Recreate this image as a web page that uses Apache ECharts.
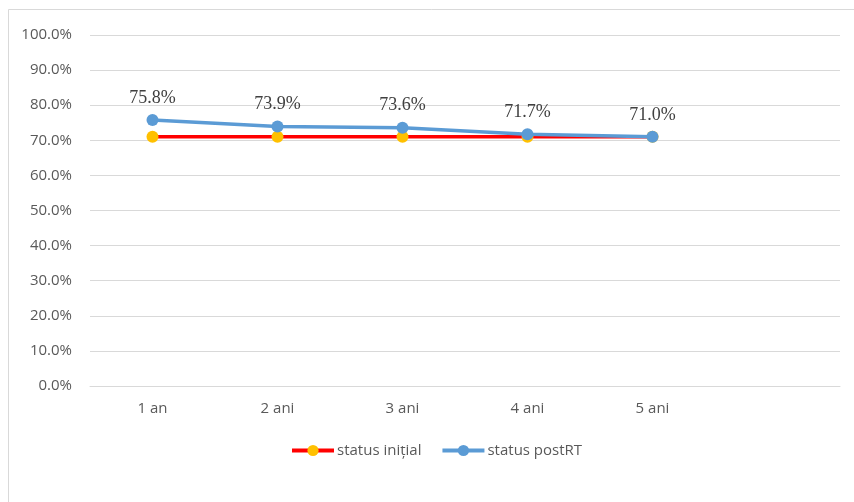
<!DOCTYPE html>
<html>
<head>
<meta charset="utf-8">
<script src="https://cdn.jsdelivr.net/npm/echarts@6/dist/echarts.min.js"></script>
<style>
  html, body { margin: 0; padding: 0; background: #fff; }
  #chart { width: 854px; height: 502px; }
</style>
</head>
<body>
<div id="chart"></div>
<script>
// Categories (the last slot is left empty, as in the layout of the sheet)
const categories = ['1 an', '2 ani', '3 ani', '4 ani', '5 ani', ''];
// Shares, in percent
const statusInitial = [71.0, 71.0, 71.0, 71.0, 71.0];
const statusPostRT = [75.8, 73.9, 73.6, 71.7, 71.0];
const yTicks = { min: 0, max: 100, interval: 10 };

const sansFont = 'Open Sans, Noto Sans, sans-serif';

const chart = echarts.init(document.getElementById('chart'), null, { renderer: 'canvas' });

chart.setOption({
  animation: false,
  backgroundColor: '#ffffff',
  graphic: [{
    type: 'rect',
    shape: { x: 8.5, y: 9.5, width: 860, height: 500 },
    style: { fill: 'none', stroke: '#d9d9d9', lineWidth: 1 },
    silent: true
  }],
  grid: { left: 90, right: 14, top: 35, bottom: 116, containLabel: false },
  legend: {
    top: 438,
    left: 285,
    itemWidth: 42,
    itemHeight: 14,
    itemGap: 19,
    lineStyle: { width: 4 },
    textStyle: { color: '#595959', fontSize: 15, fontFamily: sansFont, padding: [0, 0, 0, -2] },
    data: ['status inițial', 'status postRT']
  },
  xAxis: {
    type: 'category',
    data: categories,
    boundaryGap: true,
    axisLine: { show: true, lineStyle: { color: '#d9d9d9', width: 1 } },
    axisTick: { show: false },
    axisLabel: { color: '#595959', fontSize: 15, fontFamily: sansFont, margin: 15 }
  },
  yAxis: {
    type: 'value',
    min: yTicks.min,
    max: yTicks.max,
    interval: yTicks.interval,
    axisLine: { show: false },
    axisTick: { show: false },
    splitLine: { lineStyle: { color: '#d9d9d9', width: 1 } },
    axisLabel: {
      color: '#595959',
      fontSize: 15,
      fontFamily: sansFont,
      margin: 18,
      formatter: v => v.toFixed(1) + '%'
    }
  },
  series: [
    {
      name: 'status inițial',
      type: 'line',
      data: statusInitial,
      symbol: 'circle',
      symbolSize: 12,
      lineStyle: { color: '#ff0000', width: 3.5 },
      itemStyle: { color: '#ffc000' },
      z: 2
    },
    {
      name: 'status postRT',
      type: 'line',
      data: statusPostRT,
      symbol: 'circle',
      symbolSize: 12,
      lineStyle: { color: '#5b9bd5', width: 3.5 },
      itemStyle: { color: '#5b9bd5' },
      label: {
        show: true,
        position: 'top',
        distance: 7,
        color: '#404040',
        fontSize: 18,
        fontFamily: 'Liberation Serif, Times New Roman, serif',
        formatter: p => p.value.toFixed(1) + '%'
      },
      z: 3
    }
  ]
});
</script>
</body>
</html>
